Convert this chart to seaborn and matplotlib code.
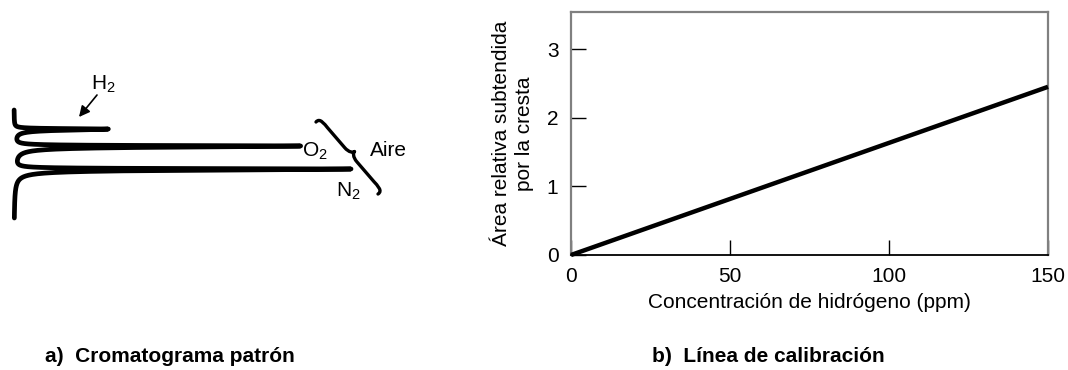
import numpy as np
import pandas as pd
import matplotlib
matplotlib.use("Agg")
import matplotlib.pyplot as plt
import seaborn as sns
from matplotlib.path import Path
from matplotlib.patches import PathPatch

# ---------------- data ----------------
# calibration line (b)
conc_ppm = [0, 150]
rel_area = [0.0, 2.45]
x_ticks = [0, 50, 100, 150]
y_ticks = [0, 1, 2, 3]

# standard chromatogram (a): relative retention position and relative peak height
peak_names = ["H$_2$", "O$_2$", "N$_2$"]
peak_time = [0.176, 0.333, 0.546]
peak_height = [0.28, 0.851, 1.0]

sns.set_theme(style="white")
plt.rcParams["font.family"] = ["Liberation Sans", "DejaVu Sans"]
plt.rcParams["text.color"] = "black"
plt.rcParams["axes.labelcolor"] = "black"
plt.rcParams["mathtext.fontset"] = "custom"
plt.rcParams["mathtext.rm"] = "Liberation Sans"
plt.rcParams["mathtext.it"] = "Liberation Sans:italic"

W, H = 1068, 370
fig = plt.figure(figsize=(W / 100, H / 100), dpi=100)
FS = 15

# ---------------- panel b ----------------
ax = fig.add_axes([571 / W, 1 - 255 / H, (1048 - 571) / W, (255 - 12) / H])
df = pd.DataFrame({"c": conc_ppm, "a": rel_area})
sns.lineplot(data=df, x="c", y="a", ax=ax, color="black", lw=3.2,
             solid_capstyle="butt", clip_on=False, zorder=3)
ax.set_xlim(0, 150)
ax.set_ylim(0, 3.54)
ax.set_xticks(x_ticks)
ax.set_yticks(y_ticks)
ax.tick_params(bottom=True, left=True, direction="in", length=11, width=1,
               color="black", labelsize=FS, pad=9, labelcolor="black")
for s in ["left", "top", "right"]:
    ax.spines[s].set_color("#808080")
    ax.spines[s].set_linewidth(1.6)
ax.spines["bottom"].set_color("black")
ax.spines["bottom"].set_linewidth(1.3)
ax.set_xlabel("Concentración de hidrógeno (ppm)", fontsize=FS, labelpad=5, color="black")
ax.set_ylabel("Área relativa subtendida\npor la cresta", fontsize=FS,
              labelpad=9, color="black", linespacing=1.3)
ax.grid(False)

# ---------------- panel a ----------------
axc = fig.add_axes([14 / W, 1 - 218 / H, (350 - 14) / W, (218 - 110) / H])
axc.set_xlim(0, 1)
axc.set_ylim(1, 0)
axc.axis("off")
t = np.linspace(0, 1, 40001)
px = 1 / 108.0
w_rise, w_fall = 0.45 * px, 1.3 * px
sig = np.zeros_like(t)
for ti, hi in zip(peak_time, peak_height):
    w = np.where(t < ti, w_rise, w_fall)
    sig += hi / (1 + ((t - ti) / w) ** 2)
axc.plot(sig, t, color="black", lw=3.4, solid_joinstyle="round",
         solid_capstyle="round", clip_on=False)

# overlay in pixel coordinates for annotations
axp = fig.add_axes([0, 0, 1, 1], zorder=5)
axp.set_xlim(0, W)
axp.set_ylim(H, 0)
axp.axis("off")
axp.patch.set_alpha(0)

axp.text(91, 84, peak_names[0], fontsize=FS, va="center", ha="left")
axp.text(302, 151, peak_names[1], fontsize=FS, va="center", ha="left")
axp.text(336, 191, peak_names[2], fontsize=FS, va="center", ha="left")
axp.text(370, 150, "Aire", fontsize=FS, va="center", ha="left")
axp.annotate("", xy=(79, 117), xytext=(97, 95),
             arrowprops=dict(arrowstyle="-|>", color="black", lw=1.2,
                             mutation_scale=16, shrinkA=0, shrinkB=0))

# brace
C = np.array([347.0, 158.0])
A = np.array([-31.0, -36.0])          # half-axis toward top end
N = np.array([36.0, -31.0]); N = N / np.linalg.norm(N)
wv = 10.0
loc = [(0, 1.0), (0.6 * wv, 1.02), (0.5 * wv, 0.85), (0.5 * wv, 0.75),
       (0.5 * wv, 0.2),
       (0.5 * wv, 0.06), (0.8 * wv, 0.0), (wv, 0.0),
       (0.8 * wv, 0.0), (0.5 * wv, -0.06), (0.5 * wv, -0.2),
       (0.5 * wv, -0.75),
       (0.5 * wv, -0.85), (0.6 * wv, -1.02), (0, -1.0)]
codes = [Path.MOVETO, Path.CURVE4, Path.CURVE4, Path.CURVE4,
         Path.LINETO,
         Path.CURVE4, Path.CURVE4, Path.CURVE4,
         Path.CURVE4, Path.CURVE4, Path.CURVE4,
         Path.LINETO,
         Path.CURVE4, Path.CURVE4, Path.CURVE4]
verts = [tuple(C + u * A + v * N) for v, u in loc]
axp.add_patch(PathPatch(Path(verts, codes), fill=False, lw=2.4, color="black",
                        capstyle="round", joinstyle="round"))

# captions
axp.text(45, 356, "a)  Cromatograma patrón", fontsize=FS, fontweight="bold",
         va="center", ha="left")
axp.text(652, 356, "b)  Línea de calibración", fontsize=FS, fontweight="bold",
         va="center", ha="left")

fig.savefig("out.png", dpi=100, facecolor="white")
